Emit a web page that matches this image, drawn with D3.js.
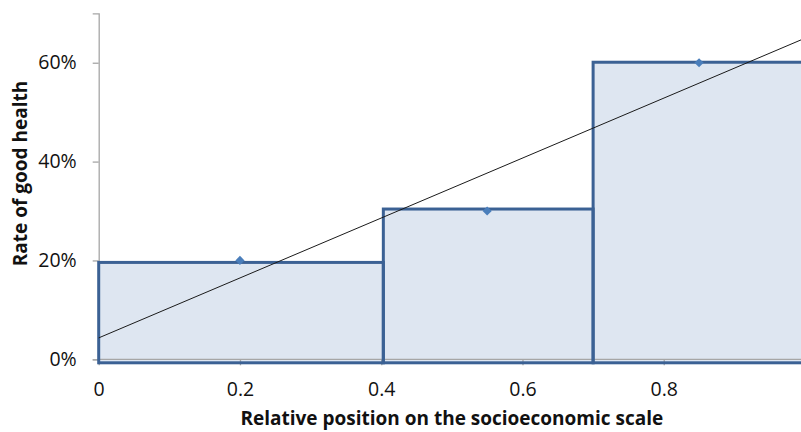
<!DOCTYPE html>
<html>
<head>
<meta charset="utf-8">
<script src="https://cdn.jsdelivr.net/npm/d3@7"></script>
<style>
  html, body { margin: 0; padding: 0; background: #fff; overflow: hidden; }
  svg { display: block; font-family: "Open Sans", Lato, sans-serif; }
</style>
</head>
<body>
<svg id="chart" width="801" height="432"></svg>
<script>
// Groups along the socioeconomic scale: each bar spans [start, end]
const groupStart = [0, 0.403, 0.7];
const groupEnd = [0.403, 0.7, 1.0];
const barRate = [0.196, 0.304, 0.601];

// Rate of good health at each group's midpoint
const pointX = [0.2, 0.55, 0.85];
const pointY = [0.20, 0.30, 0.60];

const xTicks = [0, 0.2, 0.4, 0.6, 0.8];
const yTicks = [0, 0.2, 0.4, 0.6];

const svg = d3.select("#chart");
const margin = { left: 98.7, right: -4, top: 13.3, bottom: 72.7 };
const W = 801, H = 432;

const x = d3.scaleLinear().domain([0, 1]).range([margin.left, W - margin.right]);
const y = d3.scaleLinear().domain([0, 0.7]).range([H - margin.bottom, margin.top]);

const bars = groupStart.map((s, i) => ({ s, e: groupEnd[i], v: barRate[i] }));
const barDrop = 3.5; // bars sit slightly below the baseline

// bar fills
svg.append("g").selectAll("rect").data(bars).join("rect")
  .attr("x", d => x(d.s))
  .attr("y", d => y(d.v))
  .attr("width", d => x(d.e) - x(d.s))
  .attr("height", d => y(0) - y(d.v) + barDrop)
  .attr("fill", "#dee6f1");

// axes
const axisColor = "#a6a6a6";
const gx = svg.append("g").attr("transform", `translate(0,${y(0)})`)
  .call(d3.axisBottom(x).tickValues(xTicks).tickSize(6).tickPadding(17)
    .tickFormat(d => d === 0 ? "0" : d3.format(".1f")(d)));
gx.select(".domain").remove();
gx.append("line").attr("x1", x(0)).attr("x2", W).attr("stroke", axisColor).attr("stroke-width", 1.3);

const gy = svg.append("g").attr("transform", `translate(${x(0)},0)`)
  .call(d3.axisLeft(y).tickValues(yTicks).tickSize(6).tickPadding(16)
    .tickFormat(d3.format(".0%")));
gy.select(".domain").attr("stroke", axisColor).attr("stroke-width", 1.3);

[gx, gy].forEach(g => {
  g.selectAll(".tick line").attr("stroke", axisColor).attr("stroke-width", 1.3);
  g.selectAll(".tick text").attr("fill", "#111")
    .style("font-size", "19.5px").style("font-family", "'Open Sans', sans-serif");
});

// bar outlines
svg.append("g").selectAll("rect").data(bars).join("rect")
  .attr("x", d => x(d.s))
  .attr("y", d => y(d.v))
  .attr("width", d => x(d.e) - x(d.s))
  .attr("height", d => y(0) - y(d.v) + barDrop)
  .attr("fill", "none")
  .attr("stroke", "#3b6194")
  .attr("stroke-width", 3);

// least-squares trend line through the group points
const mx = d3.mean(pointX), my = d3.mean(pointY);
const slope = d3.sum(pointX, (v, i) => (v - mx) * (pointY[i] - my)) /
              d3.sum(pointX, v => (v - mx) * (v - mx));
const icpt = my - slope * mx;
const line = d3.line().x(d => x(d)).y(d => y(icpt + slope * d));
svg.append("path").datum([0, 1]).attr("d", line)
  .attr("fill", "none").attr("stroke", "#1a1a1a").attr("stroke-width", 1);

// diamond markers
svg.append("g").selectAll("path").data(pointX.map((v, i) => [v, pointY[i]])).join("path")
  .attr("transform", d => `translate(${x(d[0])},${y(d[1])}) rotate(45)`)
  .attr("d", d3.symbol(d3.symbolSquare, 42))
  .attr("fill", "#4a7ebb");

// axis titles
svg.append("text")
  .attr("x", (x(0) + x(1)) / 2).attr("y", 425)
  .attr("text-anchor", "middle")
  .style("font-size", "19px").style("font-weight", "bold").attr("fill", "#111")
  .text("Relative position on the socioeconomic scale");

svg.append("text")
  .attr("transform", "translate(27,173.5) rotate(-90)")
  .attr("text-anchor", "middle")
  .style("font-size", "19px").style("font-weight", "bold").attr("fill", "#111")
  .text("Rate of good health");
</script>
</body>
</html>
